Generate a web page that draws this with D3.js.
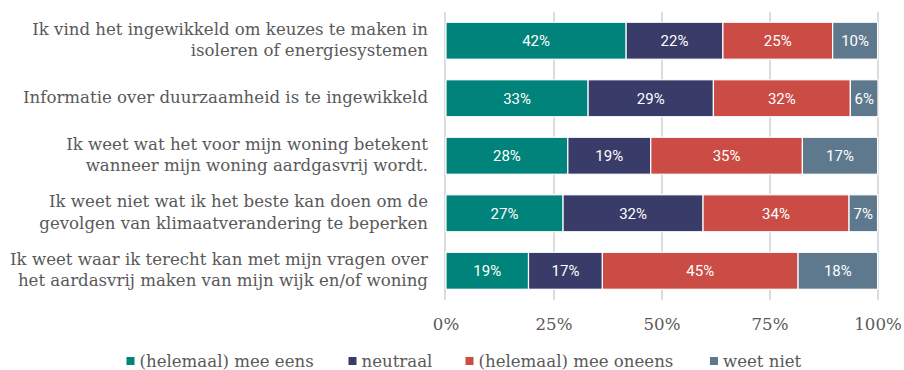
<!DOCTYPE html>
<html>
<head>
<meta charset="utf-8">
<script src="https://cdn.jsdelivr.net/npm/d3@7"></script>
<style>
  html, body { margin: 0; padding: 0; background: #fff; }
  svg { display: block; }
</style>
</head>
<body>
<svg id="chart" width="904" height="370"></svg>
<script>
// Survey statements (each on up to two lines)
const categories = [
  ["Ik vind het ingewikkeld om keuzes te maken in", "isoleren of energiesystemen"],
  ["Informatie over duurzaamheid is te ingewikkeld"],
  ["Ik weet wat het voor mijn woning betekent", "wanneer mijn woning aardgasvrij wordt."],
  ["Ik weet niet wat ik het beste kan doen om de", "gevolgen van klimaatverandering te beperken"],
  ["Ik weet waar ik terecht kan met mijn vragen over", "het aardasvrij maken van mijn wijk en/of woning"]
];

const seriesNames = ["(helemaal) mee eens", "neutraal", "(helemaal) mee oneens", "weet niet"];
const seriesColors = ["#00837a", "#393b68", "#cb4c45", "#5e798d"];

// Share of respondents per answer, in percent
const meeEens   = [41.7, 32.9, 28.2, 27.1, 19.1];
const neutraal  = [22.4, 29.0, 19.2, 32.4, 17.1];
const meeOneens = [25.4, 31.7, 35.1, 33.8, 45.3];
const weetNiet  = [10.4,  6.4, 17.4,  6.6, 18.4];

const tickValues = [0, 25, 50, 75, 100];

const seriesValues = [meeEens, neutraal, meeOneens, weetNiet];

const svg = d3.select("#chart");
const serif = "'DejaVu Serif', serif";
const textColor = "#595959";
const fontSize = "16.6px";

const x = d3.scaleLinear().domain([0, 100]).range([446, 878]);
const y = d3.scaleBand()
  .domain(d3.range(categories.length))
  .range([12, 299.5])
  .paddingInner(0.357)
  .paddingOuter(0.178);

// Vertical gridlines
svg.append("g")
  .selectAll("line")
  .data(tickValues)
  .join("line")
  .attr("x1", d => x(d) - (d === 0 ? 1 : 0))
  .attr("x2", d => x(d) - (d === 0 ? 1 : 0))
  .attr("y1", 12)
  .attr("y2", 300)
  .attr("stroke", "#dcdcdc")
  .attr("stroke-width", 2);

// Stack rows
const rows = categories.map((c, i) => {
  const obj = { idx: i };
  seriesNames.forEach((s, j) => obj[s] = seriesValues[j][i]);
  return obj;
});
const stacked = d3.stack().keys(seriesNames)(rows);

const layers = svg.append("g")
  .selectAll("g")
  .data(stacked)
  .join("g")
  .attr("fill", (d, i) => seriesColors[i]);

layers.selectAll("rect")
  .data(d => d)
  .join("rect")
  .attr("x", d => x(d[0]))
  .attr("y", (d, i) => y(i))
  .attr("width", d => x(d[1]) - x(d[0]))
  .attr("height", y.bandwidth())
  .attr("stroke", "#fff")
  .attr("stroke-width", 1.2);

// Value labels inside segments
layers.selectAll("text")
  .data(d => d)
  .join("text")
  .attr("x", d => (x(d[0]) + x(d[1])) / 2)
  .attr("y", (d, i) => y(i) + y.bandwidth() / 2)
  .attr("dy", "0.36em")
  .attr("text-anchor", "middle")
  .attr("fill", "#fff")
  .style("font-family", "Roboto, sans-serif")
  .style("font-size", "15px")
  .text(d => Math.round(d[1] - d[0]) + "%");

// Category labels
const catG = svg.append("g")
  .selectAll("text")
  .data(categories)
  .join("text")
  .attr("text-anchor", "end")
  .attr("fill", textColor)
  .style("font-family", serif)
  .style("font-size", fontSize);

catG.each(function(lines, i) {
  const cy = y(i) + y.bandwidth() / 2 - 1;
  const lh = 21.5;
  const start = cy - (lines.length - 1) * lh / 2;
  d3.select(this).selectAll("tspan")
    .data(lines)
    .join("tspan")
    .attr("x", 428)
    .attr("y", (d, k) => start + k * lh)
    .attr("dy", "0.35em")
    .text(d => d);
});

// X axis tick labels
svg.append("g")
  .selectAll("text")
  .data(tickValues)
  .join("text")
  .attr("x", d => x(d))
  .attr("y", 324)
  .attr("dy", "0.35em")
  .attr("text-anchor", "middle")
  .attr("fill", textColor)
  .style("font-family", serif)
  .style("font-size", fontSize)
  .text(d => d + "%");

// Legend
const legendX = [126.5, 348.5, 465.5, 710];
const legend = svg.append("g")
  .selectAll("g")
  .data(seriesNames)
  .join("g")
  .attr("transform", (d, i) => `translate(${legendX[i]},361)`);

legend.append("rect")
  .attr("x", 0)
  .attr("y", -4)
  .attr("width", 8)
  .attr("height", 8)
  .attr("fill", (d, i) => seriesColors[i]);

legend.append("text")
  .attr("x", 13)
  .attr("y", 0)
  .attr("dy", "0.35em")
  .attr("fill", textColor)
  .style("font-family", serif)
  .style("font-size", fontSize)
  .text(d => d);
</script>
</body>
</html>
